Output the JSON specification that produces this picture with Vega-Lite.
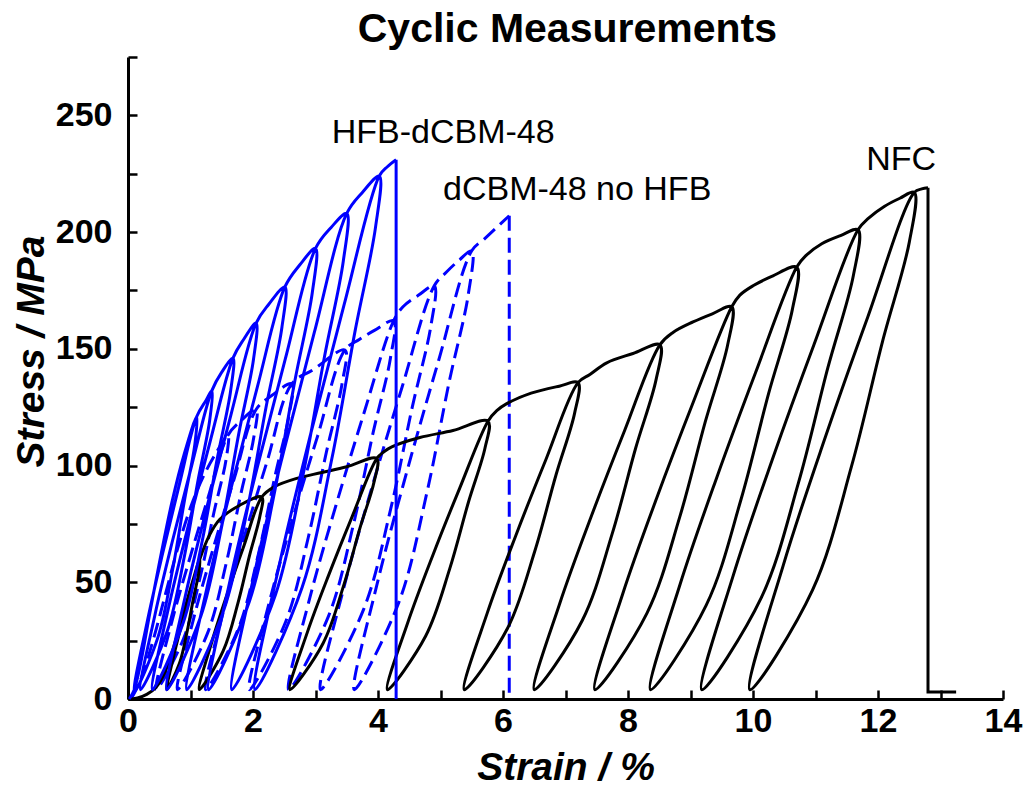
{
"$schema": "https://vega.github.io/schema/vega-lite/v6.json",
"width": 875, "height": 642,
"autosize": {"type": "none"},
"padding": {"left": 128, "top": 57, "right": 24, "bottom": 88},
"background": "white",
"config": {"view": {"stroke": null}, "font": "Liberation Sans"},
"datasets": {
"nfc": [
{"part":"curve","i":1,"strain":0,"stress":0},{"part":"curve","i":2,"strain":0.15,"stress":0.5},{"part":"curve","i":3,"strain":0.3,"stress":2},{"part":"curve","i":4,"strain":0.45,"stress":5},{"part":"curve","i":5,"strain":0.6,"stress":12},{"part":"curve","i":6,"strain":0.75,"stress":24},{"part":"curve","i":7,"strain":0.9,"stress":38},{"part":"curve","i":8,"strain":1.03,"stress":50},{"part":"curve","i":9,"strain":1.15,"stress":60},
{"part":"curve","i":10,"strain":1.134,"stress":54.4},{"part":"curve","i":11,"strain":1.048,"stress":43.2},{"part":"curve","i":12,"strain":0.948,"stress":29.2},{"part":"curve","i":13,"strain":0.822,"stress":15.2},{"part":"curve","i":14,"strain":0.62,"stress":4},{"part":"curve","i":15,"strain":0.728,"stress":18},{"part":"curve","i":16,"strain":0.859,"stress":32},{"part":"curve","i":17,"strain":1.0,"stress":46},{"part":"curve","i":18,"strain":1.15,"stress":60},
{"part":"curve","i":19,"strain":1.3,"stress":70},{"part":"curve","i":20,"strain":1.47,"stress":77},{"part":"curve","i":21,"strain":1.79,"stress":83},{"part":"curve","i":22,"strain":2.14,"stress":86.5},
{"part":"curve","i":23,"strain":2.11,"stress":78.25},{"part":"curve","i":24,"strain":1.947,"stress":61.75},{"part":"curve","i":25,"strain":1.759,"stress":41.1},{"part":"curve","i":26,"strain":1.521,"stress":20.5},{"part":"curve","i":27,"strain":1.14,"stress":4},{"part":"curve","i":28,"strain":1.343,"stress":24.6},{"part":"curve","i":29,"strain":1.591,"stress":45.25},{"part":"curve","i":30,"strain":1.858,"stress":65.9},{"part":"curve","i":31,"strain":2.14,"stress":86.5},
{"part":"curve","i":32,"strain":2.35,"stress":91},{"part":"curve","i":33,"strain":2.7,"stress":94.5},{"part":"curve","i":34,"strain":3.1,"stress":97},{"part":"curve","i":35,"strain":3.5,"stress":99.5},{"part":"curve","i":36,"strain":3.98,"stress":103},
{"part":"curve","i":37,"strain":3.938,"stress":93.1},{"part":"curve","i":38,"strain":3.712,"stress":73.3},{"part":"curve","i":39,"strain":3.45,"stress":48.55},{"part":"curve","i":40,"strain":3.12,"stress":23.8},{"part":"curve","i":41,"strain":2.59,"stress":4},{"part":"curve","i":42,"strain":2.872,"stress":28.75},{"part":"curve","i":43,"strain":3.217,"stress":53.5},{"part":"curve","i":44,"strain":3.588,"stress":78.25},{"part":"curve","i":45,"strain":3.98,"stress":103},
{"part":"curve","i":46,"strain":4.1,"stress":106},{"part":"curve","i":47,"strain":4.22,"stress":108},{"part":"curve","i":48,"strain":4.67,"stress":112},{"part":"curve","i":49,"strain":5.2,"stress":115},{"part":"curve","i":50,"strain":5.76,"stress":119},
{"part":"curve","i":51,"strain":5.712,"stress":107.5},{"part":"curve","i":52,"strain":5.449,"stress":84.5},{"part":"curve","i":53,"strain":5.147,"stress":55.75},{"part":"curve","i":54,"strain":4.763,"stress":27},{"part":"curve","i":55,"strain":4.15,"stress":4},{"part":"curve","i":56,"strain":4.477,"stress":32.75},{"part":"curve","i":57,"strain":4.876,"stress":61.5},{"part":"curve","i":58,"strain":5.306,"stress":90.25},{"part":"curve","i":59,"strain":5.76,"stress":119},
{"part":"curve","i":60,"strain":5.9,"stress":123.5},{"part":"curve","i":61,"strain":6.06,"stress":126.5},{"part":"curve","i":62,"strain":6.45,"stress":131},{"part":"curve","i":63,"strain":6.9,"stress":134},{"part":"curve","i":64,"strain":7.2,"stress":135.5},
{"part":"curve","i":65,"strain":7.145,"stress":122.35},{"part":"curve","i":66,"strain":6.849,"stress":96.05},{"part":"curve","i":67,"strain":6.507,"stress":63.2},{"part":"curve","i":68,"strain":6.073,"stress":30.3},{"part":"curve","i":69,"strain":5.38,"stress":4},{"part":"curve","i":70,"strain":5.749,"stress":36.9},{"part":"curve","i":71,"strain":6.201,"stress":69.75},{"part":"curve","i":72,"strain":6.687,"stress":102.6},{"part":"curve","i":73,"strain":7.2,"stress":135.5},
{"part":"curve","i":74,"strain":7.39,"stress":139},{"part":"curve","i":75,"strain":7.66,"stress":144},{"part":"curve","i":76,"strain":8.08,"stress":148},{"part":"curve","i":77,"strain":8.51,"stress":151.7},
{"part":"curve","i":78,"strain":8.45,"stress":136.9},{"part":"curve","i":79,"strain":8.122,"stress":107.4},{"part":"curve","i":80,"strain":7.744,"stress":70.5},{"part":"curve","i":81,"strain":7.266,"stress":33.5},{"part":"curve","i":82,"strain":6.5,"stress":4},{"part":"curve","i":83,"strain":6.908,"stress":40.9},{"part":"curve","i":84,"strain":7.407,"stress":77.85},{"part":"curve","i":85,"strain":7.943,"stress":114.8},{"part":"curve","i":86,"strain":8.51,"stress":151.7},
{"part":"curve","i":87,"strain":8.72,"stress":157},{"part":"curve","i":88,"strain":9.04,"stress":161.5},{"part":"curve","i":89,"strain":9.35,"stress":165},{"part":"curve","i":90,"strain":9.66,"stress":168},
{"part":"curve","i":91,"strain":9.594,"stress":151.6},{"part":"curve","i":92,"strain":9.237,"stress":118.8},{"part":"curve","i":93,"strain":8.826,"stress":77.8},{"part":"curve","i":94,"strain":8.304,"stress":36.8},{"part":"curve","i":95,"strain":7.47,"stress":4},{"part":"curve","i":96,"strain":7.915,"stress":45},{"part":"curve","i":97,"strain":8.458,"stress":86},{"part":"curve","i":98,"strain":9.042,"stress":127},{"part":"curve","i":99,"strain":9.66,"stress":168},
{"part":"curve","i":100,"strain":9.79,"stress":173},{"part":"curve","i":101,"strain":10.0,"stress":177},{"part":"curve","i":102,"strain":10.3,"stress":181},{"part":"curve","i":103,"strain":10.7,"stress":185},
{"part":"curve","i":104,"strain":10.63,"stress":166.9},{"part":"curve","i":105,"strain":10.248,"stress":130.7},{"part":"curve","i":106,"strain":9.808,"stress":85.45},{"part":"curve","i":107,"strain":9.252,"stress":40.2},{"part":"curve","i":108,"strain":8.36,"stress":4},{"part":"curve","i":109,"strain":8.835,"stress":49.25},{"part":"curve","i":110,"strain":9.415,"stress":94.5},{"part":"curve","i":111,"strain":10.04,"stress":139.75},{"part":"curve","i":112,"strain":10.7,"stress":185},
{"part":"curve","i":113,"strain":10.85,"stress":190},{"part":"curve","i":114,"strain":11.1,"stress":195},{"part":"curve","i":115,"strain":11.4,"stress":198.5},{"part":"curve","i":116,"strain":11.68,"stress":201},
{"part":"curve","i":117,"strain":11.605,"stress":181.3},{"part":"curve","i":118,"strain":11.198,"stress":141.9},{"part":"curve","i":119,"strain":10.728,"stress":92.65},{"part":"curve","i":120,"strain":10.133,"stress":43.4},{"part":"curve","i":121,"strain":9.18,"stress":4},{"part":"curve","i":122,"strain":9.688,"stress":53.25},{"part":"curve","i":123,"strain":10.308,"stress":102.5},{"part":"curve","i":124,"strain":10.975,"stress":151.75},{"part":"curve","i":125,"strain":11.68,"stress":201},
{"part":"curve","i":126,"strain":11.85,"stress":206},{"part":"curve","i":127,"strain":12.1,"stress":211},{"part":"curve","i":128,"strain":12.35,"stress":214.5},{"part":"curve","i":129,"strain":12.58,"stress":217},
{"part":"curve","i":130,"strain":12.501,"stress":195.7},{"part":"curve","i":131,"strain":12.072,"stress":153.1},{"part":"curve","i":132,"strain":11.578,"stress":99.85},{"part":"curve","i":133,"strain":10.952,"stress":46.6},{"part":"curve","i":134,"strain":9.95,"stress":4},{"part":"curve","i":135,"strain":10.484,"stress":57.25},{"part":"curve","i":136,"strain":11.136,"stress":110.5},{"part":"curve","i":137,"strain":11.838,"stress":163.75},{"part":"curve","i":138,"strain":12.58,"stress":217},
{"part":"curve","i":139,"strain":12.7,"stress":218.5},{"part":"curve","i":140,"strain":12.8,"stress":219},
{"part":"drop","i":141,"strain":12.8,"stress":219},{"part":"drop","i":142,"strain":12.8,"stress":3},{"part":"drop","i":143,"strain":13.25,"stress":3}
],
"hfb": [
{"part":"curve","i":1,"strain":0.02,"stress":0},{"part":"curve","i":2,"strain":0.1,"stress":4},{"part":"curve","i":3,"strain":0.2,"stress":15},{"part":"curve","i":4,"strain":0.35,"stress":37},{"part":"curve","i":5,"strain":0.5,"stress":58},{"part":"curve","i":6,"strain":0.7,"stress":84},{"part":"curve","i":7,"strain":0.9,"stress":105},{"part":"curve","i":8,"strain":1.1,"stress":121},
{"part":"curve","i":9,"strain":1.07,"stress":109.2},{"part":"curve","i":10,"strain":0.907,"stress":85.6},{"part":"curve","i":11,"strain":0.719,"stress":56.1},{"part":"curve","i":12,"strain":0.481,"stress":26.6},{"part":"curve","i":13,"strain":0.1,"stress":3},{"part":"curve","i":14,"strain":0.303,"stress":32.5},{"part":"curve","i":15,"strain":0.551,"stress":62},{"part":"curve","i":16,"strain":0.818,"stress":91.5},{"part":"curve","i":17,"strain":1.1,"stress":121},
{"part":"curve","i":18,"strain":1.25,"stress":128},{"part":"curve","i":19,"strain":1.34,"stress":132},
{"part":"curve","i":20,"strain":1.306,"stress":119.2},{"part":"curve","i":21,"strain":1.12,"stress":93.6},{"part":"curve","i":22,"strain":0.906,"stress":61.6},{"part":"curve","i":23,"strain":0.634,"stress":29.6},{"part":"curve","i":24,"strain":0.2,"stress":4},{"part":"curve","i":25,"strain":0.431,"stress":36},{"part":"curve","i":26,"strain":0.714,"stress":68},{"part":"curve","i":27,"strain":1.019,"stress":100},{"part":"curve","i":28,"strain":1.34,"stress":132},
{"part":"curve","i":29,"strain":1.5,"stress":140},{"part":"curve","i":30,"strain":1.68,"stress":146},
{"part":"curve","i":31,"strain":1.641,"stress":131.8},{"part":"curve","i":32,"strain":1.431,"stress":103.4},{"part":"curve","i":33,"strain":1.189,"stress":67.9},{"part":"curve","i":34,"strain":0.881,"stress":32.4},{"part":"curve","i":35,"strain":0.39,"stress":4},{"part":"curve","i":36,"strain":0.652,"stress":39.5},{"part":"curve","i":37,"strain":0.972,"stress":75},{"part":"curve","i":38,"strain":1.316,"stress":110.5},{"part":"curve","i":39,"strain":1.68,"stress":146},
{"part":"curve","i":40,"strain":1.85,"stress":154},{"part":"curve","i":41,"strain":2.05,"stress":161},
{"part":"curve","i":42,"strain":2.007,"stress":145.3},{"part":"curve","i":43,"strain":1.774,"stress":113.9},{"part":"curve","i":44,"strain":1.505,"stress":74.65},{"part":"curve","i":45,"strain":1.165,"stress":35.4},{"part":"curve","i":46,"strain":0.62,"stress":4},{"part":"curve","i":47,"strain":0.91,"stress":43.25},{"part":"curve","i":48,"strain":1.265,"stress":82.5},{"part":"curve","i":49,"strain":1.647,"stress":121.75},{"part":"curve","i":50,"strain":2.05,"stress":161},
{"part":"curve","i":51,"strain":2.25,"stress":169},{"part":"curve","i":52,"strain":2.51,"stress":176.5},
{"part":"curve","i":53,"strain":2.463,"stress":159.25},{"part":"curve","i":54,"strain":2.207,"stress":124.75},{"part":"curve","i":55,"strain":1.912,"stress":81.6},{"part":"curve","i":56,"strain":1.538,"stress":38.5},{"part":"curve","i":57,"strain":0.94,"stress":4},{"part":"curve","i":58,"strain":1.259,"stress":47.1},{"part":"curve","i":59,"strain":1.648,"stress":90.25},{"part":"curve","i":60,"strain":2.067,"stress":133.4},{"part":"curve","i":61,"strain":2.51,"stress":176.5},
{"part":"curve","i":62,"strain":2.75,"stress":186},{"part":"curve","i":63,"strain":3.0,"stress":193},
{"part":"curve","i":64,"strain":2.949,"stress":174.1},{"part":"curve","i":65,"strain":2.67,"stress":136.3},{"part":"curve","i":66,"strain":2.348,"stress":89.05},{"part":"curve","i":67,"strain":1.942,"stress":41.8},{"part":"curve","i":68,"strain":1.29,"stress":4},{"part":"curve","i":69,"strain":1.637,"stress":51.25},{"part":"curve","i":70,"strain":2.061,"stress":98.5},{"part":"curve","i":71,"strain":2.518,"stress":145.75},{"part":"curve","i":72,"strain":3.0,"stress":193},
{"part":"curve","i":73,"strain":3.25,"stress":202},{"part":"curve","i":74,"strain":3.5,"stress":208},
{"part":"curve","i":75,"strain":3.445,"stress":187.6},{"part":"curve","i":76,"strain":3.145,"stress":146.8},{"part":"curve","i":77,"strain":2.799,"stress":95.8},{"part":"curve","i":78,"strain":2.361,"stress":44.8},{"part":"curve","i":79,"strain":1.66,"stress":4},{"part":"curve","i":80,"strain":2.034,"stress":55},{"part":"curve","i":81,"strain":2.49,"stress":106},{"part":"curve","i":82,"strain":2.981,"stress":157},{"part":"curve","i":83,"strain":3.5,"stress":208},
{"part":"curve","i":84,"strain":3.75,"stress":217},{"part":"curve","i":85,"strain":4.02,"stress":224},
{"part":"curve","i":86,"strain":3.96,"stress":202},{"part":"curve","i":87,"strain":3.636,"stress":158},{"part":"curve","i":88,"strain":3.262,"stress":103},{"part":"curve","i":89,"strain":2.788,"stress":48},{"part":"curve","i":90,"strain":2.03,"stress":4},{"part":"curve","i":91,"strain":2.434,"stress":59},{"part":"curve","i":92,"strain":2.927,"stress":114},{"part":"curve","i":93,"strain":3.459,"stress":169},{"part":"curve","i":94,"strain":4.02,"stress":224},
{"part":"curve","i":95,"strain":4.15,"stress":228},{"part":"curve","i":96,"strain":4.29,"stress":231},
{"part":"drop","i":97,"strain":4.29,"stress":231},{"part":"drop","i":98,"strain":4.29,"stress":0}
],
"dcbm": [
{"part":"curve","i":1,"strain":0.05,"stress":0},{"part":"curve","i":2,"strain":0.2,"stress":8},{"part":"curve","i":3,"strain":0.4,"stress":25},{"part":"curve","i":4,"strain":0.6,"stress":45},{"part":"curve","i":5,"strain":0.8,"stress":65},{"part":"curve","i":6,"strain":1.0,"stress":82},{"part":"curve","i":7,"strain":1.2,"stress":95},{"part":"curve","i":8,"strain":1.4,"stress":105},{"part":"curve","i":9,"strain":1.6,"stress":113},
{"part":"curve","i":10,"strain":1.566,"stress":102.1},{"part":"curve","i":11,"strain":1.378,"stress":80.3},{"part":"curve","i":12,"strain":1.162,"stress":53.05},{"part":"curve","i":13,"strain":0.888,"stress":25.8},{"part":"curve","i":14,"strain":0.45,"stress":4},{"part":"curve","i":15,"strain":0.683,"stress":31.25},{"part":"curve","i":16,"strain":0.969,"stress":58.5},{"part":"curve","i":17,"strain":1.276,"stress":85.75},{"part":"curve","i":18,"strain":1.6,"stress":113},
{"part":"curve","i":19,"strain":1.8,"stress":119},{"part":"curve","i":20,"strain":2.05,"stress":124},
{"part":"curve","i":21,"strain":2.012,"stress":112},{"part":"curve","i":22,"strain":1.807,"stress":88},{"part":"curve","i":23,"strain":1.57,"stress":58},{"part":"curve","i":24,"strain":1.27,"stress":28},{"part":"curve","i":25,"strain":0.79,"stress":4},{"part":"curve","i":26,"strain":1.046,"stress":34},{"part":"curve","i":27,"strain":1.358,"stress":64},{"part":"curve","i":28,"strain":1.695,"stress":94},{"part":"curve","i":29,"strain":2.05,"stress":124},
{"part":"curve","i":30,"strain":2.3,"stress":130},{"part":"curve","i":31,"strain":2.62,"stress":135},
{"part":"curve","i":32,"strain":2.579,"stress":121.9},{"part":"curve","i":33,"strain":2.354,"stress":95.7},{"part":"curve","i":34,"strain":2.094,"stress":62.95},{"part":"curve","i":35,"strain":1.766,"stress":30.2},{"part":"curve","i":36,"strain":1.24,"stress":4},{"part":"curve","i":37,"strain":1.52,"stress":36.75},{"part":"curve","i":38,"strain":1.862,"stress":69.5},{"part":"curve","i":39,"strain":2.231,"stress":102.25},{"part":"curve","i":40,"strain":2.62,"stress":135},
{"part":"curve","i":41,"strain":2.96,"stress":141},{"part":"curve","i":42,"strain":3.47,"stress":149.5},
{"part":"curve","i":43,"strain":3.424,"stress":134.95},{"part":"curve","i":44,"strain":3.175,"stress":105.85},{"part":"curve","i":45,"strain":2.887,"stress":69.5},{"part":"curve","i":46,"strain":2.523,"stress":33.1},{"part":"curve","i":47,"strain":1.94,"stress":4},{"part":"curve","i":48,"strain":2.251,"stress":40.4},{"part":"curve","i":49,"strain":2.63,"stress":76.75},{"part":"curve","i":50,"strain":3.039,"stress":113.1},{"part":"curve","i":51,"strain":3.47,"stress":149.5},
{"part":"curve","i":52,"strain":3.7,"stress":154},{"part":"curve","i":53,"strain":3.95,"stress":158},{"part":"curve","i":54,"strain":4.25,"stress":162},
{"part":"curve","i":55,"strain":4.2,"stress":146.2},{"part":"curve","i":56,"strain":3.926,"stress":114.6},{"part":"curve","i":57,"strain":3.61,"stress":75.1},{"part":"curve","i":58,"strain":3.21,"stress":35.6},{"part":"curve","i":59,"strain":2.57,"stress":4},{"part":"curve","i":60,"strain":2.911,"stress":43.5},{"part":"curve","i":61,"strain":3.328,"stress":83},{"part":"curve","i":62,"strain":3.776,"stress":122.5},{"part":"curve","i":63,"strain":4.25,"stress":162},
{"part":"curve","i":64,"strain":4.4,"stress":168},{"part":"curve","i":65,"strain":4.65,"stress":173},{"part":"curve","i":66,"strain":4.9,"stress":177},
{"part":"curve","i":67,"strain":4.845,"stress":159.7},{"part":"curve","i":68,"strain":4.549,"stress":125.1},{"part":"curve","i":69,"strain":4.207,"stress":81.85},{"part":"curve","i":70,"strain":3.773,"stress":38.6},{"part":"curve","i":71,"strain":3.08,"stress":4},{"part":"curve","i":72,"strain":3.449,"stress":47.25},{"part":"curve","i":73,"strain":3.901,"stress":90.5},{"part":"curve","i":74,"strain":4.387,"stress":133.75},{"part":"curve","i":75,"strain":4.9,"stress":177},
{"part":"curve","i":76,"strain":5.1,"stress":183},{"part":"curve","i":77,"strain":5.3,"stress":188},{"part":"curve","i":78,"strain":5.5,"stress":192},
{"part":"curve","i":79,"strain":5.444,"stress":173.2},{"part":"curve","i":80,"strain":5.137,"stress":135.6},{"part":"curve","i":81,"strain":4.784,"stress":88.6},{"part":"curve","i":82,"strain":4.336,"stress":41.6},{"part":"curve","i":83,"strain":3.62,"stress":4},{"part":"curve","i":84,"strain":4.002,"stress":51},{"part":"curve","i":85,"strain":4.468,"stress":98},{"part":"curve","i":86,"strain":4.97,"stress":145},{"part":"curve","i":87,"strain":5.5,"stress":192},
{"part":"curve","i":88,"strain":5.7,"stress":197},{"part":"curve","i":89,"strain":5.88,"stress":201.5},{"part":"curve","i":90,"strain":6.1,"stress":207},
{"part":"drop","i":91,"strain":6.1,"stress":207},{"part":"drop","i":92,"strain":6.1,"stress":0}
]
},
"layer": [
{"data": {"name": "dcbm"}, "transform": [{"filter": "datum.part === 'curve'"}],
 "mark": {"type": "line", "color": "#0000ff", "strokeWidth": 3, "strokeDash": [15, 7], "interpolate": "catmull-rom"},
 "encoding": {
 "x": {"field": "strain", "type": "quantitative", "scale": {"domain": [0, 14], "nice": false, "zero": false},
 "axis": {"title": "Strain / %", "values": [0,1,2,3,4,5,6,7,8,9,10,11,12,13,14], "format": "d", "labelExpr": "datum.value % 2 === 0 ? datum.label : ''",
  "grid": false, "labelFlush": false, "labelOverlap": false, "tickSize": -9, "tickWidth": 2.5, "tickColor": "black", "domainColor": "black", "domainWidth": 3,
  "labelFont": "Liberation Sans", "labelFontSize": 34, "labelFontWeight": "bold", "labelColor": "black", "labelPadding": 14,
  "titleFont": "Liberation Sans", "titleFontSize": 39, "titleFontWeight": "bold", "titleFontStyle": "italic", "titleColor": "black", "titleBaseline": "alphabetic", "titleY": 80}},
 "y": {"field": "stress", "type": "quantitative", "scale": {"domain": [0, 275], "nice": false, "zero": false},
 "axis": {"title": "Stress / MPa", "values": [0,25,50,75,100,125,150,175,200,225,250,275], "format": "d", "labelExpr": "datum.value % 50 === 0 ? datum.label : ''",
  "grid": false, "labelOverlap": false, "tickSize": -9, "tickWidth": 2.5, "tickColor": "black", "domainColor": "black", "domainWidth": 3,
  "labelFont": "Liberation Sans", "labelFontSize": 34, "labelFontWeight": "bold", "labelColor": "black", "labelPadding": 25,
  "titleFont": "Liberation Sans", "titleFontSize": 39, "titleFontWeight": "bold", "titleFontStyle": "italic", "titleColor": "black", "titleAngle": 270, "titleBaseline": "alphabetic", "titleX": -85, "titleY": 294}},
 "order": {"field": "i", "type": "quantitative"}}},
{"data": {"name": "dcbm"}, "transform": [{"filter": "datum.part === 'drop'"}],
 "mark": {"type": "line", "color": "#0000ff", "strokeWidth": 3, "strokeDash": [15, 7]},
 "encoding": {"x": {"field": "strain", "type": "quantitative"}, "y": {"field": "stress", "type": "quantitative"}, "order": {"field": "i", "type": "quantitative"}}},
{"data": {"name": "nfc"}, "transform": [{"filter": "datum.part === 'curve'"}],
 "mark": {"type": "line", "color": "black", "strokeWidth": 3, "interpolate": "catmull-rom"},
 "encoding": {"x": {"field": "strain", "type": "quantitative"}, "y": {"field": "stress", "type": "quantitative"}, "order": {"field": "i", "type": "quantitative"}}},
{"data": {"name": "nfc"}, "transform": [{"filter": "datum.part === 'drop'"}],
 "mark": {"type": "line", "color": "black", "strokeWidth": 3},
 "encoding": {"x": {"field": "strain", "type": "quantitative"}, "y": {"field": "stress", "type": "quantitative"}, "order": {"field": "i", "type": "quantitative"}}},
{"data": {"name": "hfb"}, "transform": [{"filter": "datum.part === 'curve'"}],
 "mark": {"type": "line", "color": "#0000ff", "strokeWidth": 3, "interpolate": "catmull-rom"},
 "encoding": {"x": {"field": "strain", "type": "quantitative"}, "y": {"field": "stress", "type": "quantitative"}, "order": {"field": "i", "type": "quantitative"}}},
{"data": {"name": "hfb"}, "transform": [{"filter": "datum.part === 'drop'"}],
 "mark": {"type": "line", "color": "#0000ff", "strokeWidth": 3},
 "encoding": {"x": {"field": "strain", "type": "quantitative"}, "y": {"field": "stress", "type": "quantitative"}, "order": {"field": "i", "type": "quantitative"}}},
{"data": {"values": [{"label": "HFB-dCBM-48"}]},
 "mark": {"type": "text", "font": "Liberation Sans", "fontSize": 34, "align": "left", "baseline": "middle", "fill": "black"},
 "encoding": {"x": {"datum": 3.26, "type": "quantitative"}, "y": {"datum": 242.5, "type": "quantitative"}, "text": {"field": "label", "type": "nominal"}}},
{"data": {"values": [{"label": "dCBM-48 no HFB"}]},
 "mark": {"type": "text", "font": "Liberation Sans", "fontSize": 34, "align": "left", "baseline": "middle", "fill": "black"},
 "encoding": {"x": {"datum": 5.04, "type": "quantitative"}, "y": {"datum": 218, "type": "quantitative"}, "text": {"field": "label", "type": "nominal"}}},
{"data": {"values": [{"label": "NFC"}]},
 "mark": {"type": "text", "font": "Liberation Sans", "fontSize": 34, "align": "left", "baseline": "middle", "fill": "black"},
 "encoding": {"x": {"datum": 11.81, "type": "quantitative"}, "y": {"datum": 231, "type": "quantitative"}, "text": {"field": "label", "type": "nominal"}}},
{"data": {"values": [{"label": "Cyclic Measurements"}]},
 "mark": {"type": "text", "font": "Liberation Sans", "fontSize": 41, "fontWeight": "bold", "align": "center", "baseline": "alphabetic", "fill": "black"},
 "encoding": {"x": {"datum": 7.03, "type": "quantitative"}, "y": {"datum": 281.5, "type": "quantitative"}, "text": {"field": "label", "type": "nominal"}}}
]
}
